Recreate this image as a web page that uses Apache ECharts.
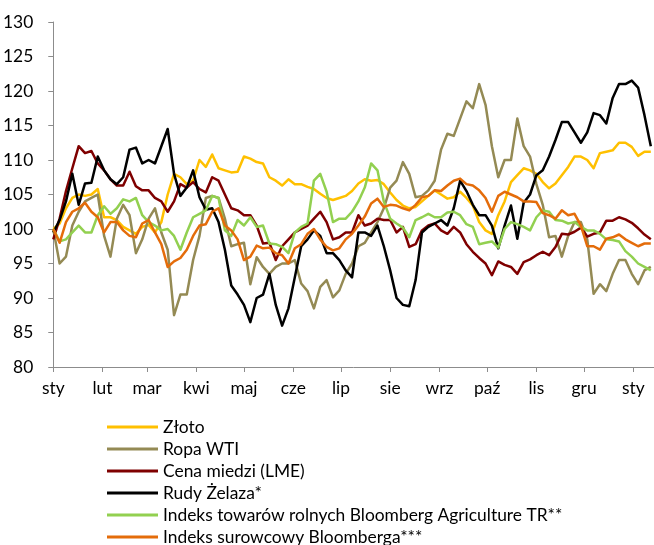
<!DOCTYPE html>
<html>
<head>
<meta charset="utf-8">
<script src="https://cdn.jsdelivr.net/npm/echarts@6/dist/echarts.min.js"></script>
<style>
  html, body { margin: 0; padding: 0; background: #ffffff; }
  #chart { width: 654px; height: 545px; }
</style>
</head>
<body>
<div id="chart"></div>
<script>
// Day offsets (from 1 January) of the sampled index readings
const days = [0,4,8,12,16,20,24,28,32,36,40,44,48,52,56,60,64,68,72,76,80,84,88,92,96,100,104,108,112,116,120,124,128,132,136,140,144,148,152,156,160,164,168,172,176,180,184,188,192,196,200,204,208,212,216,220,224,228,232,236,240,244,248,252,256,260,264,268,272,276,280,284,288,292,296,300,304,308,312,316,320,324,328,332,336,340,344,348,352,356,360,364,368,372,376];

// Month boundaries (day offsets) and their axis labels
const monthStarts = [0,31,59,90,120,151,181,212,243,273,304,334,365];
const monthLabels = ['sty','lut','mar','kwi','maj','cze','lip','sie','wrz','paź','lis','gru','sty'];

// Indexed prices, start of year = 100
const zloto = [100,100.8,103,104.5,105,104.8,105,105.8,101.7,101.7,101.3,100.3,99.8,99.3,100.3,100.6,99.5,101,105,108,107.5,106.5,107,110,109,110.8,108.8,108.5,108.2,108.3,110.5,110.2,109.7,109.5,107.5,107,106.3,107.2,106.5,106.5,106.1,105.8,105.1,104.5,104.2,104.5,104.8,105.5,106.6,107.2,107,107.1,106.5,105.3,104.2,103.4,103,103.2,104,104.8,105.6,105,104.4,104.6,105.4,104.5,103.4,101,99.8,99.3,102,104,106.8,107.8,108.8,108.5,108,106.8,105.9,106.6,107.8,109,110.5,110.5,110,108.8,111,111.2,111.4,112.5,112.5,111.9,110.6,111.2,111.2];

const ropaWTI = [100,95,96,100.5,102.5,104,104.5,105,99,96,101.5,103.5,102,96.5,98.5,101.5,103,99.5,97,87.5,90.5,90.5,95.5,99,104.5,104.8,104.5,101.5,97.5,97.8,98,92,95.9,94.5,93.5,94.5,95,95,95.5,92.1,91,88.5,91.6,92.6,90.1,91.1,93.5,95,97.5,98,99.5,101,103,106,107,109.7,108,104.6,104.8,105.6,107,111.5,113.8,113.5,116,118.5,117.5,121,118,112,107.5,110,110,116,112,110.5,106.5,103.5,98.8,99,96,99,101,101,98.5,90.6,92,91,93.5,95.5,95.5,93.5,92,94,94.5];

const miedz = [98.5,101.5,105.5,108.8,112,111,111.3,109.5,108.5,107.2,106.3,106.3,108.3,106.2,105.6,105.6,104.5,104,102.5,104,106.5,106,106.8,105.8,105.3,107.5,107,105,103,102.7,102,102,100.5,97.9,98,95.5,97.5,98.5,99.5,100,100.5,101.5,102.5,101,98.5,98.8,99.5,99.5,102,100.5,100.8,101.5,101.3,101.3,99.5,100.3,97.4,97.8,99.8,100.5,100.8,99.8,99.3,100.3,99.5,97.8,96.7,95.8,95,93.3,95.3,94.8,94.5,93.5,95.2,95.6,96.2,96.7,96.2,97.4,99.3,99.2,99.6,100.2,98.9,99.3,99.5,101.2,101.2,101.7,101.4,100.9,100.1,99.2,98.5];

const rudyZelaza = [99.5,101.3,104,108,103.5,106.6,106.7,110.5,108.5,107.2,106.5,107.5,111.5,111.8,109.5,110,109.5,112,114.5,108,104.8,106,108.5,104.6,102.8,103,101,97,91.8,90.5,89,86.5,90,90.5,93.5,89,86,88.5,93,97.5,98.5,99.8,99,96.5,96.5,95.5,94,93,99.5,99.5,99,100.5,97.5,94,90,89,88.8,92.6,99.5,100.3,100.8,101.3,100.5,103,107,105.5,103.5,102,102,100.5,97.2,100.5,103.4,98.6,103.8,105,107.8,108.5,110.5,112.9,115.5,115.5,114,112.5,114,116.8,116.5,115.3,119,121,121,121.5,120.5,116.5,112];

const rolne = [100,98.2,98.5,99.5,100.5,99.5,99.5,102,103.3,102.2,103,104.3,104,104.5,102,101,100.5,99.8,100,99,97,99.5,101.7,102.2,102.7,104.8,104.5,99.8,99,101.3,100.5,101.7,100.3,100.5,97.9,97.8,97.4,96.5,99.5,100.3,100.8,107,108,105.4,101,101.5,101.5,102.5,104,106,109.5,108.5,104,101.5,100.8,100.2,98.8,101.3,101.7,102.2,101.7,101.7,102.4,102.5,102,100.7,100.3,97.8,98,98.2,97.3,100,101,100.7,100.3,99.8,101.7,102.7,102.5,101.3,101.2,100.8,101,100.3,99.8,99.8,99.3,98.5,98.4,98.2,96.8,96,95,94.5,94];

const surowcowy = [100,98,101,102.5,103,103.8,102.5,101.7,99.5,101,101,99.8,99,98.8,100.8,101.3,99.5,97.8,94.5,95.3,95.8,97,99,100.5,100.7,102.5,103,100.5,99.8,98.5,95.5,96,97.6,97.2,97.3,96.5,96.2,95,97.2,97.8,99.3,100,98.5,97.4,96.9,97.2,98.5,99.3,100.5,101.8,103.7,104.4,103.2,103.5,103.4,103,102.7,103.5,104.6,104.8,105.6,105.5,106.3,107,107.3,106.5,106.3,105.6,104.5,102.5,104.8,105.4,105,104.6,104,104,103.9,102.3,102,101.5,102.7,102,102.2,100.5,97.5,97.5,97,98.6,98.8,99.2,98.5,98,97.5,97.9,97.9];

const seriesDefs = [
  { name: 'Złoto', values: zloto, color: '#FFC000' },
  { name: 'Ropa WTI', values: ropaWTI, color: '#948A54' },
  { name: 'Cena miedzi (LME)', values: miedz, color: '#7F0000' },
  { name: 'Rudy Żelaza*', values: rudyZelaza, color: '#000000' },
  { name: 'Indeks towarów rolnych Bloomberg Agriculture TR**', values: rolne, color: '#92D050' },
  { name: 'Indeks surowcowy Bloomberga***', values: surowcowy, color: '#E46C0A' }
];

const FONT = 'Lato, "Liberation Sans", sans-serif';
const FONT_SIZE = 17.4;
const axisGrey = '#8C8C8C';

// One single-entry legend per row so the list runs down past the bottom edge without wrapping
const legendRowTop = 417;
const legendRowStep = 22;
const legends = seriesDefs.map((s, i) => ({
  orient: 'vertical',
  left: 107,
  top: legendRowTop + i * legendRowStep,
  padding: 0,
  icon: 'rect',
  itemWidth: 51,
  itemHeight: 3,
  textStyle: { fontSize: FONT_SIZE, lineHeight: 20, color: '#000000', fontFamily: FONT },
  data: [s.name]
}));

const chart = echarts.init(document.getElementById('chart'), null, { renderer: 'canvas' });

chart.setOption({
  animation: false,
  backgroundColor: '#ffffff',
  textStyle: { fontFamily: FONT },
  grid: { left: 53, right: 0, top: 22, bottom: 178, containLabel: false },
  xAxis: {
    type: 'value',
    min: 0,
    max: 378,
    axisLine: { show: true, lineStyle: { color: axisGrey, width: 1 } },
    axisTick: { show: true, customValues: monthStarts, length: 5, lineStyle: { color: axisGrey } },
    axisLabel: {
      customValues: monthStarts,
      formatter: function (v) { return monthLabels[monthStarts.indexOf(v)]; },
      margin: 13,
      fontSize: FONT_SIZE,
      color: '#000000',
      fontFamily: FONT
    },
    splitLine: { show: false }
  },
  yAxis: {
    type: 'value',
    min: 80,
    max: 130,
    interval: 5,
    axisLine: { show: true, lineStyle: { color: axisGrey, width: 1 } },
    axisTick: { show: true, length: 5, lineStyle: { color: axisGrey } },
    axisLabel: { margin: 20, fontSize: FONT_SIZE, color: '#000000', fontFamily: FONT },
    splitLine: { show: false }
  },
  legend: legends,
  series: seriesDefs.map(s => ({
    name: s.name,
    type: 'line',
    data: days.map((d, i) => [d, s.values[i]]),
    showSymbol: false,
    symbol: 'none',
    color: s.color,
    lineStyle: { color: s.color, width: 2.5, join: 'round' },
    emphasis: { disabled: true }
  }))
});
</script>
</body>
</html>
